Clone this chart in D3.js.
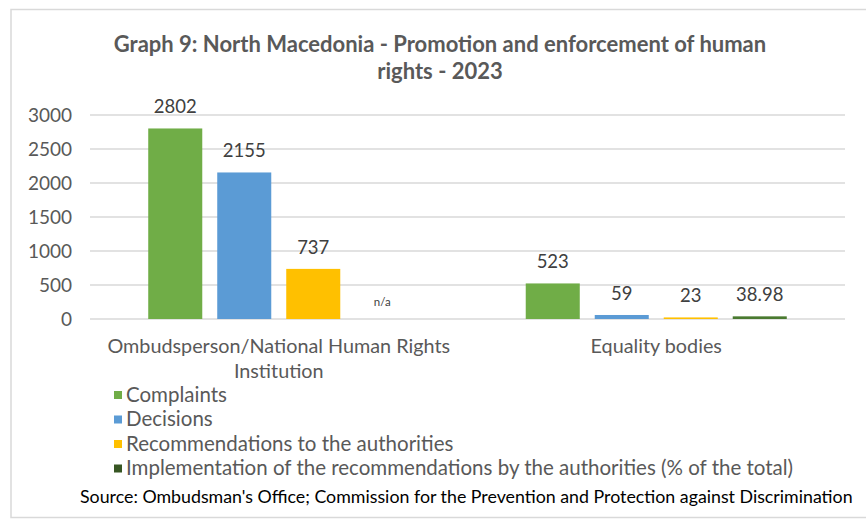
<!DOCTYPE html>
<html>
<head>
<meta charset="utf-8">
<script src="https://cdn.jsdelivr.net/npm/d3@7"></script>
<style>
  body { margin: 0; background: #fff; }
  text { font-family: Lato, "Open Sans", sans-serif; }
</style>
</head>
<body>
<div id="chart"></div>
<script>
const categories = ['Ombudsperson/National Human Rights Institution', 'Equality bodies'];
const categoryLines = [['Ombudsperson/National Human Rights', 'Institution'], ['Equality bodies']];
const seriesNames = ['Complaints', 'Decisions', 'Recommendations to the authorities',
  'Implementation of the recommendations by the authorities (% of the total)'];
const seriesColors = ['#70ad47', '#5b9bd5', '#ffc000', '#4a7a30'];
const complaints = [2802, 523];
const decisions = [2155, 59];
const recommendations = [737, 23];
const implementation = [null, 38.98];
const yTicks = [0, 500, 1000, 1500, 2000, 2500, 3000];

const series = [complaints, decisions, recommendations, implementation];

const width = 866, height = 519;
const margin = { top: 115, right: 21, bottom: 199, left: 90 };

const svg = d3.select('#chart').append('svg')
  .attr('width', width).attr('height', height);

// frame
svg.append('rect')
  .attr('x', 11).attr('y', 9.5).attr('width', 900).attr('height', 508)
  .attr('fill', 'none').attr('stroke', '#d9d9d9').attr('stroke-width', 1.5);

svg.append('text')
  .attr('x', 440).attr('y', 52)
  .attr('text-anchor', 'middle')
  .attr('font-size', 22).attr('font-weight', 'bold').attr('fill', '#595959')
  .selectAll('tspan')
  .data(['Graph 9: North Macedonia - Promotion and enforcement of human', 'rights - 2023'])
  .join('tspan')
  .attr('x', 440).attr('dy', (d, i) => i ? 27 : 0)
  .text(d => d);

const x0 = d3.scaleBand()
  .domain(categories)
  .range([margin.left, width - margin.right]);

const x1 = d3.scaleBand()
  .domain(d3.range(series.length))
  .range([0, x0.bandwidth()])
  .paddingInner(0.217)
  .paddingOuter(0.844);

const y = d3.scaleLinear()
  .domain([0, 3000])
  .range([height - margin.bottom - 1, margin.top]);

// gridlines
svg.append('g')
  .selectAll('line')
  .data(yTicks)
  .join('line')
  .attr('x1', margin.left).attr('x2', width - margin.right)
  .attr('y1', d => y(d)).attr('y2', d => y(d))
  .attr('stroke', '#d9d9d9').attr('stroke-width', 1.5);

const yAxis = svg.append('g')
  .attr('transform', `translate(${margin.left - 18},0)`)
  .call(d3.axisLeft(y).tickValues(yTicks).tickFormat(d3.format('d')).tickSize(0).tickPadding(0));
yAxis.select('.domain').remove();
yAxis.selectAll('text')
  .attr('font-size', 19).attr('fill', '#595959')
  .style('font-family', 'Lato, sans-serif');

// bars
const groups = svg.append('g')
  .selectAll('g')
  .data(categories)
  .join('g')
  .attr('transform', d => `translate(${x0(d)},0)`);

groups.each(function (cat, ci) {
  const g = d3.select(this);
  series.forEach((vals, si) => {
    const v = vals[ci];
    const cx = x1(si) + x1.bandwidth() / 2;
    if (v !== null) {
      g.append('rect')
        .attr('x', x1(si))
        .attr('y', y(v))
        .attr('width', x1.bandwidth())
        .attr('height', y(0) - y(v))
        .attr('fill', seriesColors[si]);
      g.append('text')
        .attr('x', cx).attr('y', y(v) - 15)
        .attr('text-anchor', 'middle')
        .attr('font-size', 18.5).attr('fill', '#404040')
        .text(v);
    } else {
      g.append('text')
        .attr('x', cx).attr('y', y(0) - 13)
        .attr('text-anchor', 'middle')
        .attr('font-size', 11.5).attr('fill', '#404040')
        .text('n/a');
    }
  });
});

// category labels
svg.append('g')
  .selectAll('text')
  .data(categories)
  .join('text')
  .attr('x', d => x0(d) + x0.bandwidth() / 2)
  .attr('y', 353)
  .attr('text-anchor', 'middle')
  .attr('font-size', 19.8).attr('fill', '#595959')
  .each(function (d, i) {
    d3.select(this).selectAll('tspan')
      .data(categoryLines[i])
      .join('tspan')
      .attr('x', x0(d) + x0.bandwidth() / 2)
      .attr('dy', (t, j) => j ? 25 : 0)
      .text(t => t);
  });

// legend
const legend = svg.append('g')
  .selectAll('g')
  .data(seriesNames)
  .join('g')
  .attr('transform', (d, i) => `translate(114,${395 + i * 24.5})`);
legend.append('rect')
  .attr('x', 0).attr('y', -4).attr('width', 8).attr('height', 8)
  .attr('fill', (d, i) => i === 3 ? '#375623' : seriesColors[i]);
legend.append('text')
  .attr('x', 12).attr('y', 6.5)
  .attr('font-size', 20.5).attr('fill', '#595959')
  .text(d => d);

svg.append('text')
  .attr('x', 80).attr('y', 503)
  .attr('font-size', 17.8).attr('fill', '#000')
  .text("Source: Ombudsman's Office; Commission for the Prevention and Protection against Discrimination");
</script>
</body>
</html>
